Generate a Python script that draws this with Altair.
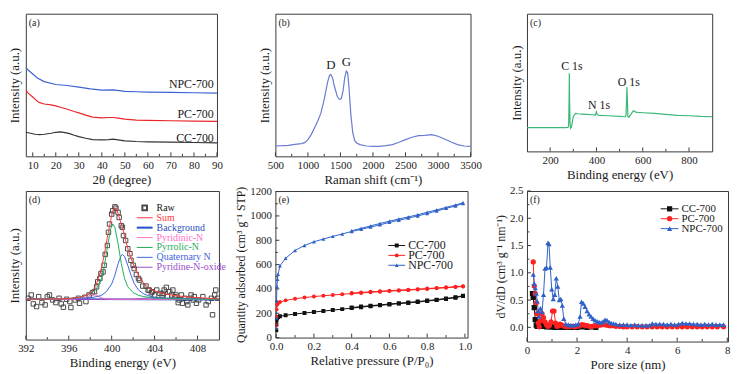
import altair as alt
import pandas as pd

FONT = "Liberation Serif"
FRAME = "#3a3a3a"
TXT = "#1a1a1a"

# ---------------- (a) XRD ----------------
a_npc_x = [7, 8, 10, 12, 15, 20, 25, 30, 35, 40, 45, 50, 55, 60, 70, 80, 90]
a_npc_y = [270, 262, 250, 238, 227, 218, 215, 210, 205, 201, 202, 197, 196, 195, 194, 193, 192]
a_pc_x = [7, 8, 10, 12, 13, 15, 18, 20, 22, 25, 28, 30, 33, 36, 40, 43, 45, 47, 50, 55, 60, 70, 80, 90]
a_pc_y = [200, 192, 180, 167, 163, 159, 156, 153, 149, 143, 136, 132, 125, 119, 117, 118, 118, 116, 113, 110, 109, 108, 107, 106]
a_cc_x = [7, 9, 11, 13, 15, 18, 20, 22, 24, 26, 28, 30, 33, 36, 40, 43, 45, 47, 50, 55, 60, 70, 80, 90]
a_cc_y = [73, 70, 67, 66, 67, 70, 73, 74, 72, 69, 64, 60, 55, 51, 50, 51, 52, 50, 47, 45, 44, 43, 42, 41]
a_lab = ["NPC-700", "PC-700", "CC-700"]
a_lab_x = [88.6, 88.6, 88.6]
a_lab_y = [218, 127, 57]
a_major = [10, 20, 30, 40, 50, 60, 70, 80, 90]
a_minor = [15, 25, 35, 45, 55, 65, 75, 85]

# ---------------- (b) Raman ----------------
b_x = [500, 700, 800, 900, 950, 1000, 1050, 1100, 1150, 1200, 1250, 1300, 1330, 1350, 1380, 1400, 1450,
       1480, 1510, 1540, 1565, 1590, 1610, 1630, 1660, 1690, 1720, 1750, 1800, 1900, 2000, 2100, 2200,
       2300, 2400, 2500, 2600, 2700, 2800, 2900, 3000, 3100, 3200, 3300, 3400, 3500]
b_y = [31, 33, 36, 38, 41, 50, 65, 85, 105, 130, 170, 220, 242, 245, 235, 215, 180,
       171, 172, 195, 235, 255, 250, 210, 125, 70, 47, 40, 35, 31, 30, 30, 32,
       35, 42, 50, 57, 62, 63, 65, 60, 52, 43, 35, 31, 30]
b_lab = ["D", "G"]
b_lab_x = [1354, 1593]
b_lab_y = [272, 282]
b_major = [500, 1000, 1500, 2000, 2500, 3000, 3500]
b_minor = [750, 1250, 1750, 2250, 2750, 3250]

# ---------------- (c) XPS survey ----------------
c_x = [100, 200, 270, 278, 280, 282, 283, 284, 286, 288, 292, 296, 300, 305, 310, 320, 340, 360, 380,
       395, 400, 403, 410, 450, 500, 525, 528, 530, 532, 534, 536, 540, 545, 550, 555, 560, 570, 580,
       600, 650, 700, 750, 800, 850, 900]
c_y = [72, 72, 72, 73, 80, 165, 237, 165, 85, 70, 73, 90, 105, 111, 115, 114, 113, 112, 111,
       110, 120, 112, 109, 108, 106, 105, 110, 155, 195, 145, 105, 103, 109, 113, 119, 123, 119, 118,
       117, 115, 112, 109, 108, 106, 105]
c_lab = ["C 1s", "N 1s", "O 1s"]
c_lab_x = [294, 411, 540]
c_lab_y = [260, 140, 210]
c_major = [200, 400, 600, 800]
c_minor = [300, 500, 700]

# ---------------- (d) N 1s ----------------
d_raw_x = [392.2, 392.5, 392.7, 393.0, 393.2, 393.5, 393.8, 394.0, 394.2, 394.5, 394.8, 395.1, 395.3, 395.5,
           395.8, 396.1, 396.2, 396.6, 396.9, 397.0, 397.5, 397.6, 397.9, 398.2, 398.4, 398.6, 398.7, 398.9,
           399.0, 399.2, 399.3, 399.4, 399.6, 399.7, 399.8, 400.0, 400.1, 400.3, 400.4, 400.6, 400.7, 400.9,
           401.0, 401.1, 401.3, 401.5, 401.7, 401.8, 402.0, 402.1, 402.3, 402.5, 402.6, 402.9, 403.2, 403.4,
           403.5, 403.7, 403.8, 404.0, 404.2, 404.5, 404.7, 404.8, 404.9, 405.1, 405.2, 405.4, 405.6, 405.7,
           405.9, 406.0, 406.2, 406.3, 406.5, 406.6, 406.8, 407.0, 407.1, 407.3, 407.4, 407.6, 407.7, 407.9,
           408.1, 408.5, 408.8, 409.0, 409.3, 409.4, 409.6, 409.7, 409.9]
d_raw_y = [125, 135, 108, 100, 130, 112, 105, 130, 135, 120, 112, 125, 108, 98,
           122, 115, 97, 120, 125, 110, 128, 115, 135, 142, 145, 160, 175, 185,
           200, 205, 225, 258, 285, 325, 350, 380, 390, 402, 398, 385, 370, 345,
           340, 315, 300, 275, 260, 240, 225, 215, 197, 185, 180, 162, 162, 150,
           150, 142, 145, 135, 150, 140, 135, 140, 150, 158, 130, 145, 135, 150,
           130, 135, 112, 120, 135, 110, 125, 115, 105, 125, 135, 120, 130, 110,
           120, 130, 105, 115, 125, 75, 135, 150, 125]
d_bg_x = [392, 410]
d_bg_y = [123, 121]
d_sum_x = [392, 396, 397, 397.5, 398, 398.5, 399, 399.3, 399.6, 399.9, 400.1, 400.3, 400.5, 400.7, 401,
           401.3, 401.6, 402, 402.5, 403, 403.5, 404, 405, 406, 407, 408, 410]
d_sum_y = [122, 124, 128, 133, 140, 160, 210, 255, 310, 360, 390, 400, 393, 370, 340,
           300, 265, 230, 195, 170, 155, 147, 138, 133, 129, 127, 123]
d_pyr_x = [392, 396, 397, 397.5, 398, 398.5, 399, 399.3, 399.6, 399.9, 400.1, 400.3, 400.6, 400.9,
           401.2, 401.5, 402, 402.5, 403, 404, 406, 410]
d_pyr_y = [122, 124, 128, 132, 140, 150, 180, 220, 280, 335, 350, 340, 290, 230,
           185, 160, 142, 134, 130, 126, 123, 122]
d_qua_x = [392, 398, 399, 399.5, 400, 400.3, 400.6, 400.85, 401.0, 401.2, 401.5, 401.8, 402.1, 402.5,
           403, 403.5, 404, 406, 410]
d_qua_y = [122, 126, 133, 145, 168, 195, 230, 252, 258, 252, 225, 195, 170, 150,
           138, 132, 128, 124, 122]
d_pdn_x = [392, 396.5, 397.5, 398, 398.3, 398.6, 399, 399.5, 401, 410]
d_pdn_y = [122, 123, 127, 134, 137, 134, 127, 123, 122, 122]
d_oxi_x = [392, 402, 403, 403.5, 404, 405, 410]
d_oxi_y = [121, 122, 125, 126, 125, 122, 121]
D_NAMES = ["Raw", "Sum", "Background", "Pyridinic-N", "Pyrrolic-N", "Quaternary N", "Pyridine-N-oxide"]
D_COLORS = ["#111111", "#ff3b3b", "#1f4fc4", "#ff6ec7", "#1fae5b", "#3f63e0", "#9b4dca"]
d_major = [392, 396, 400, 404, 408]
d_minor = [394, 398, 402, 406]

# ---------------- (e) isotherms ----------------
e_ads_p = [0.0005, 0.001, 0.002, 0.004, 0.007, 0.01, 0.02, 0.05, 0.1, 0.15, 0.2, 0.25, 0.3, 0.35,
           0.4, 0.45, 0.5, 0.55, 0.6, 0.65, 0.7, 0.75, 0.8, 0.85, 0.9, 0.95, 0.99]
e_cc_ads = [60, 110, 145, 160, 166, 170, 175, 183, 194, 202, 210, 218, 226, 234,
            242, 250, 258, 265, 272, 279, 285, 292, 300, 308, 318, 328, 342]
e_pc_ads = [100, 170, 230, 268, 278, 282, 292, 306, 319, 329, 337, 344, 350, 356,
            362, 367, 372, 377, 382, 386, 390, 395, 400, 405, 410, 415, 420]
e_npc_ads = [80, 160, 300, 420, 480, 520, 590, 652, 716, 757, 788, 810, 832, 852,
             872, 890, 908, 927, 947, 965, 982, 1000, 1020, 1040, 1062, 1082, 1102]
e_des_p = [0.99, 0.95, 0.9, 0.85, 0.8, 0.75, 0.7, 0.65, 0.6, 0.55, 0.5, 0.45, 0.4]
e_cc_des = [345, 332, 322, 312, 304, 296, 289, 283, 276, 269, 262, 255, 247]
e_pc_des = [422, 418, 413, 408, 403, 398, 394, 390, 386, 381, 376, 371, 366]
e_npc_des = [1108, 1090, 1070, 1050, 1030, 1010, 992, 975, 957, 938, 918, 898, 878]
E_NAMES = ["CC-700", "PC-700", "NPC-700"]
E_COLORS = ["#111111", "#ff2020", "#2f62c8"]
E_SHAPES = ["square", "circle", "triangle-up"]
e_xmajor = [0, 0.2, 0.4, 0.6, 0.8, 1.0]
e_xminor = [0.1, 0.3, 0.5, 0.7, 0.9]
e_ymajor = [0, 200, 400, 600, 800, 1000, 1200]
e_yminor = [100, 300, 500, 700, 900, 1100]

# ---------------- (f) pore size ----------------
f_npc_x = [0.25, 0.29, 0.33, 0.37, 0.41, 0.45, 0.49, 0.54, 0.60, 0.66, 0.72, 0.78, 0.84, 0.88, 0.93, 0.99,
           1.05, 1.11, 1.17, 1.23, 1.29, 1.35, 1.41, 1.47, 1.55, 1.65, 1.75, 1.85, 1.95, 2.05, 2.12, 2.18,
           2.25, 2.32, 2.40, 2.48, 2.56, 2.64, 2.72, 2.80, 2.88, 2.96, 3.04, 3.12, 3.20, 3.28, 3.36, 3.45,
           3.55, 3.7, 3.85, 4.0, 4.15, 4.3, 4.45, 4.6, 4.75, 4.9, 5.0, 5.15, 5.3, 5.45, 5.6, 5.75, 5.9,
           6.05, 6.2, 6.35, 6.5, 6.65, 6.8, 6.95, 7.1, 7.25, 7.4, 7.55, 7.7, 7.85]
f_npc_y = [0.97, 0.80, 0.72, 0.62, 0.48, 0.30, 0.20, 0.35, 0.28, 0.60, 1.08, 1.10, 1.55, 1.53, 1.10, 0.70,
           0.52, 0.60, 0.90, 0.75, 0.50, 0.52, 0.40, 0.16, 0.06, 0.05, 0.04, 0.04, 0.05, 0.06, 0.20, 0.47,
           0.44, 0.38, 0.30, 0.24, 0.20, 0.16, 0.13, 0.11, 0.10, 0.09, 0.11, 0.14, 0.13, 0.10, 0.08, 0.07,
           0.06, 0.05, 0.05, 0.05, 0.04, 0.05, 0.04, 0.04, 0.04, 0.04, 0.07, 0.06, 0.06, 0.06, 0.05, 0.06, 0.05,
           0.06, 0.08, 0.07, 0.07, 0.06, 0.06, 0.05, 0.06, 0.05, 0.06, 0.05, 0.05, 0.05]
f_pc_x = [0.25, 0.29, 0.33, 0.37, 0.41, 0.45, 0.49, 0.54, 0.60, 0.66, 0.72, 0.78, 0.84, 0.90, 0.96, 1.02,
          1.08, 1.14, 1.20, 1.26, 1.32, 1.40, 1.50, 1.60, 1.70, 1.80, 1.90, 2.00, 2.10, 2.20, 2.30, 2.40,
          2.50, 2.60, 2.70, 2.80, 2.90, 3.00, 3.10, 3.20, 3.30, 3.40, 3.55, 3.70, 3.85, 4.0, 4.2, 4.4,
          4.6, 4.8, 5.0, 5.2, 5.4, 5.6, 5.8, 6.0, 6.2, 6.4, 6.6, 6.8, 7.0, 7.2, 7.4, 7.6, 7.85]
f_pc_y = [1.20, 0.76, 0.62, 0.45, 0.25, 0.08, 0.01, 0.12, 0.25, 0.18, 0.10, 0.05, 0.02, 0.04, 0.10, 0.30,
          0.30, 0.08, 0.02, 0.03, 0.06, 0.04, 0.02, 0.01, 0.02, 0.02, 0.01, 0.02, 0.03, 0.05, 0.04, 0.03,
          0.02, 0.02, 0.03, 0.03, 0.04, 0.05, 0.05, 0.04, 0.03, 0.03, 0.02, 0.02, 0.01, 0.01, 0.01, 0.01,
          0.01, 0.01, 0.01, 0.01, 0.01, 0.01, 0.01, 0.01, 0.01, 0.01, 0.01, 0.01, 0.01, 0.01, 0.01, 0.01, 0.01]
f_cc_x = [0.22, 0.25, 0.29, 0.33, 0.37, 0.41, 0.45, 0.50, 0.55, 0.60, 0.66, 0.72, 0.78, 0.85, 0.92, 1.0,
          1.1, 1.2, 1.3, 1.4, 1.5, 1.6, 1.8, 2.0, 2.2, 2.4, 2.6, 2.75]
f_cc_y = [0.62, 0.55, 0.36, 0.14, 0.04, 0.02, 0.05, 0.08, 0.04, 0.02, 0.06, 0.03, 0.01, 0.02, 0.01, 0.01,
          0.0, 0.0, 0.01, 0.0, 0.0, 0.0, 0.0, 0.0, 0.01, 0.0, 0.01, 0.0]
f_xmajor = [0, 2, 4, 6, 8]
f_xminor = [1, 3, 5, 7]
f_ymajor = [0, 0.5, 1.0, 1.5, 2.0, 2.5]
f_yminor = [0.25, 0.75, 1.25, 1.75, 2.25]


# ================= helpers =================
def xax(title, values, fmt=None, tsize=13):
    d = dict(title=title, values=values, labelFlush=False, labelOverlap=False,
             labelPadding=3, titlePadding=3, titleFontSize=tsize)
    if fmt:
        d["format"] = fmt
    return alt.Axis(**d)


def yax_hidden(title):
    return alt.Axis(title=title, labels=False, titlePadding=4, minExtent=0, titleFontSize=13)


def yax(title, values, fmt=None, tsize=12):
    d = dict(title=title, values=values, labelFlush=False, labelOverlap=False,
             labelPadding=4, titlePadding=2, titleFontSize=tsize)
    if fmt:
        d["format"] = fmt
    return alt.Axis(**d)


def line_layer(xs, ys, color, xdom, ydom, xaxis, yaxis, width=1.2):
    df = pd.DataFrame({"x": xs, "y": ys})
    return alt.Chart(df).mark_line(color=color, strokeWidth=width, clip=True).encode(
        x=alt.X("x:Q", scale=alt.Scale(domain=xdom), axis=xaxis),
        y=alt.Y("y:Q", scale=alt.Scale(domain=ydom), axis=yaxis))


def text_layer(xs, ys, labels, xdom, ydom, xaxis, yaxis, size=12, align="center"):
    df = pd.DataFrame({"x": xs, "y": ys, "t": labels})
    return alt.Chart(df).mark_text(font=FONT, fontSize=size, align=align, baseline="middle", color=TXT).encode(
        x=alt.X("x:Q", scale=alt.Scale(domain=xdom), axis=xaxis),
        y=alt.Y("y:Q", scale=alt.Scale(domain=ydom), axis=yaxis),
        text="t:N")


def tag(t):
    return alt.Chart(pd.DataFrame({"t": [t]})).mark_text(
        font=FONT, fontSize=10, align="left", baseline="top", color=TXT).encode(
        x=alt.value(3), y=alt.value(4), text="t:N")


def ticks_bottom(vals, dom, H, size, xaxis):
    return alt.Chart(pd.DataFrame({"x": vals})).mark_rule(color=FRAME, strokeWidth=1).encode(
        x=alt.X("x:Q", scale=alt.Scale(domain=dom), axis=xaxis),
        y=alt.value(H), y2=alt.value(H - size))


def ticks_left(vals, dom, size, yaxis):
    return alt.Chart(pd.DataFrame({"y": vals})).mark_rule(color=FRAME, strokeWidth=1).encode(
        y=alt.Y("y:Q", scale=alt.Scale(domain=dom), axis=yaxis),
        x=alt.value(0), x2=alt.value(size))


def ef_legend(y_first, y_last, xl0, xl1, xt, fsize, msize):
    df = pd.DataFrame({"s": E_NAMES})
    ysc = alt.Y("s:N", sort=E_NAMES, scale=alt.Scale(domain=E_NAMES, range=[y_first, y_last], padding=0), axis=None)
    col = alt.Color("s:N", scale=alt.Scale(domain=E_NAMES, range=E_COLORS), legend=None)
    shp = alt.Shape("s:N", scale=alt.Scale(domain=E_NAMES, range=E_SHAPES), legend=None)
    base = alt.Chart(df)
    rule = base.mark_rule(strokeWidth=1).encode(y=ysc, x=alt.value(xl0), x2=alt.value(xl1), color=col)
    pts = base.mark_point(filled=True, size=msize, opacity=1).encode(
        y=ysc, x=alt.value((xl0 + xl1) / 2), color=col, shape=shp)
    txt = base.mark_text(font=FONT, fontSize=fsize, align="left", baseline="middle", color=TXT).encode(
        y=ysc, x=alt.value(xt), text="s:N")
    return alt.layer(rule, pts, txt)


def spacer(w, h):
    return alt.Chart(pd.DataFrame({"z": [0]})).mark_point(opacity=0).encode(
        x=alt.value(0), y=alt.value(0)).properties(
        width=w, height=h, view=alt.ViewBackground(stroke="transparent", fill="transparent"))


# ================= panel (a) =================
AW, AH = 193, 144
a_xd, a_yd = [7, 90], [0, 433]
ax_a = xax("2θ (degree)", a_major)
ay_a = yax_hidden("Intensity (a.u.)")
panel_a = alt.layer(
    line_layer(a_cc_x, a_cc_y, "#333333", a_xd, a_yd, ax_a, ay_a),
    line_layer(a_pc_x, a_pc_y, "#e8262b", a_xd, a_yd, ax_a, ay_a),
    line_layer(a_npc_x, a_npc_y, "#3d62d6", a_xd, a_yd, ax_a, ay_a),
    text_layer(a_lab_x, a_lab_y, a_lab, a_xd, a_yd, ax_a, ay_a, size=12, align="right"),
    ticks_bottom(a_major, a_xd, AH, 4, ax_a),
    ticks_bottom(a_minor, a_xd, AH, 2.5, ax_a),
    tag("(a)"),
).properties(width=AW, height=AH)

# ================= panel (b) =================
BW, BH = 197, 144
b_xd, b_yd = [500, 3500], [0, 427]
ax_b = xax("Raman shift (cm⁻¹)", b_major, fmt="d")
ay_b = yax_hidden("Intensity (a.u.)")
panel_b = alt.layer(
    line_layer(b_x, b_y, "#6a7bd1", b_xd, b_yd, ax_b, ay_b),
    text_layer(b_lab_x, b_lab_y, b_lab, b_xd, b_yd, ax_b, ay_b, size=13),
    ticks_bottom(b_major, b_xd, BH, 4, ax_b),
    ticks_bottom(b_minor, b_xd, BH, 2.5, ax_b),
    tag("(b)"),
).properties(width=BW, height=BH)

# ================= panel (c) =================
CW, CH = 187, 139
c_xd, c_yd = [100, 900], [0, 417]
ax_c = xax("Binding energy (eV)", c_major)
ay_c = yax_hidden("Intensity (a.u.)")
panel_c = alt.layer(
    line_layer(c_x, c_y, "#3cb878", c_xd, c_yd, ax_c, ay_c),
    text_layer(c_lab_x, c_lab_y, c_lab, c_xd, c_yd, ax_c, ay_c, size=12),
    ticks_bottom(c_major, c_xd, CH, 4, ax_c),
    ticks_bottom(c_minor, c_xd, CH, 2.5, ax_c),
    tag("(c)"),
).properties(width=CW, height=CH)

# ================= panel (d) =================
DW, DH = 195, 150
d_xd, d_yd = [392, 410], [0, 450]
ax_d = xax("Binding energy (eV)", d_major)
ay_d = yax_hidden("Intensity (a.u.)")
d_raw = alt.Chart(pd.DataFrame({"x": d_raw_x, "y": d_raw_y})).mark_point(
    shape="square", filled=False, size=20, color="#4a4a4a", strokeWidth=1, opacity=1, clip=True).encode(
    x=alt.X("x:Q", scale=alt.Scale(domain=d_xd), axis=ax_d),
    y=alt.Y("y:Q", scale=alt.Scale(domain=d_yd), axis=ay_d))
d_main = alt.layer(
    d_raw,
    line_layer(d_bg_x, d_bg_y, D_COLORS[2], d_xd, d_yd, ax_d, ay_d, width=1.6),
    line_layer(d_oxi_x, d_oxi_y, D_COLORS[6], d_xd, d_yd, ax_d, ay_d, width=1),
    line_layer(d_pdn_x, d_pdn_y, D_COLORS[3], d_xd, d_yd, ax_d, ay_d, width=1),
    line_layer(d_qua_x, d_qua_y, D_COLORS[5], d_xd, d_yd, ax_d, ay_d, width=1),
    line_layer(d_pyr_x, d_pyr_y, D_COLORS[4], d_xd, d_yd, ax_d, ay_d, width=1),
    line_layer(d_sum_x, d_sum_y, D_COLORS[1], d_xd, d_yd, ax_d, ay_d, width=1),
    ticks_bottom(d_major, d_xd, DH, 4, ax_d),
    ticks_bottom(d_minor, d_xd, DH, 2.5, ax_d),
    tag("(d)"),
)
d_leg_df = pd.DataFrame({"s": D_NAMES})
d_ysc = alt.Y("s:N", sort=D_NAMES, scale=alt.Scale(domain=D_NAMES, range=[12, 82], padding=0), axis=None)
d_col = alt.Color("s:N", scale=alt.Scale(domain=D_NAMES, range=D_COLORS), legend=None)
d_leg = alt.layer(
    alt.Chart(pd.DataFrame({"s": D_NAMES[1:]})).mark_rule().encode(
        y=d_ysc, x=alt.value(112), x2=alt.value(128), color=d_col,
        strokeWidth=alt.condition(alt.datum.s == "Background", alt.value(2), alt.value(1))),
    alt.Chart(pd.DataFrame({"s": D_NAMES[:1]})).mark_point(
        shape="square", filled=False, size=22, color="#4a4a4a", opacity=1).encode(y=d_ysc, x=alt.value(120)),
    alt.Chart(d_leg_df).mark_text(font=FONT, fontSize=10, align="left", baseline="middle").encode(
        y=d_ysc, x=alt.value(132), text="s:N", color=d_col),
)
panel_d = alt.layer(d_main, d_leg).resolve_scale(y="independent").properties(width=DW, height=DH)

# ================= panel (e) =================
EW, EH = 194, 148
e_xd, e_yd = [-0.004, 1.014], [0, 1205]
ax_e = xax("Relative pressure (P/P₀)", e_xmajor, fmt=".1f")
ay_e = yax("Quantity adsorbed (cm³ g⁻¹ STP)", e_ymajor, fmt="d", tsize=12)
e_parts = []
for nm, ads, des in [("CC-700", e_cc_ads, e_cc_des), ("PC-700", e_pc_ads, e_pc_des), ("NPC-700", e_npc_ads, e_npc_des)]:
    e_parts.append(pd.DataFrame({"x": e_ads_p, "y": ads, "s": nm, "b": nm + " ads"}))
    e_parts.append(pd.DataFrame({"x": e_des_p, "y": des, "s": nm, "b": nm + " des"}))
e_df = pd.concat(e_parts, ignore_index=True)
e_col = alt.Color("s:N", scale=alt.Scale(domain=E_NAMES, range=E_COLORS), legend=None)
e_shp = alt.Shape("s:N", scale=alt.Scale(domain=E_NAMES, range=E_SHAPES), legend=None)
e_X = alt.X("x:Q", scale=alt.Scale(domain=e_xd), axis=ax_e)
e_Y = alt.Y("y:Q", scale=alt.Scale(domain=e_yd), axis=ay_e)
e_main = alt.layer(
    alt.Chart(e_df).mark_line(strokeWidth=1, clip=True).encode(x=e_X, y=e_Y, color=e_col, detail="b:N"),
    alt.Chart(e_df).mark_point(filled=True, size=16, opacity=1, clip=True).encode(
        x=e_X, y=e_Y, color=e_col, shape=e_shp),
    ticks_bottom(e_xmajor, e_xd, EH, 4, ax_e),
    ticks_bottom(e_xminor, e_xd, EH, 2.5, ax_e),
    ticks_left(e_ymajor, e_yd, 4, ay_e),
    ticks_left(e_yminor, e_yd, 2.5, ay_e),
    tag("(e)"),
)
panel_e = alt.layer(e_main, ef_legend(50, 80, 114, 131, 134, 12, 16)).resolve_scale(
    y="independent").properties(width=EW, height=EH)

# ================= panel (f) =================
FW, FH = 203, 152
f_xd, f_yd = [0, 8.03], [-0.26, 2.5]
ax_f = xax("Pore size (nm)", f_xmajor)
ay_f = yax("dV/dD (cm³ g⁻¹ nm⁻¹)", f_ymajor, fmt=".1f", tsize=12)
f_df = pd.concat([
    pd.DataFrame({"x": f_cc_x, "y": f_cc_y, "s": "CC-700"}),
    pd.DataFrame({"x": f_pc_x, "y": f_pc_y, "s": "PC-700"}),
    pd.DataFrame({"x": f_npc_x, "y": f_npc_y, "s": "NPC-700"}),
], ignore_index=True)
f_X = alt.X("x:Q", scale=alt.Scale(domain=f_xd), axis=ax_f)
f_Y = alt.Y("y:Q", scale=alt.Scale(domain=f_yd), axis=ay_f)
f_main = alt.layer(
    alt.Chart(f_df).mark_line(strokeWidth=1, clip=True).encode(x=f_X, y=f_Y, color=e_col, detail="s:N"),
    alt.Chart(f_df).mark_point(filled=True, size=28, opacity=1, clip=True).encode(
        x=f_X, y=f_Y, color=e_col, shape=e_shp),
    ticks_bottom(f_xmajor, f_xd, FH, 4, ax_f),
    ticks_bottom(f_xminor, f_xd, FH, 2.5, ax_f),
    ticks_left(f_ymajor, f_yd, 4, ay_f),
    ticks_left(f_yminor, f_yd, 2.5, ay_f),
    tag("(f)"),
)
panel_f = alt.layer(f_main, ef_legend(13, 43, 135, 153, 156, 11, 28)).resolve_scale(
    y="independent").properties(width=FW, height=FH)

# ================= layout: 5-column flow grid with invisible spacers =================
views = [
    panel_a, spacer(57, 144), panel_b, spacer(50, 144), panel_c,
    spacer(193, 35), spacer(57, 35), spacer(197, 35), spacer(50, 35), spacer(187, 35),
    panel_d, spacer(56, 150), panel_e, spacer(57, 148), panel_f,
]
chart = alt.concat(*views, columns=5, spacing=0, bounds="flush", align="none").resolve_scale(
    color="independent", shape="independent"
).properties(
    padding={"left": 0, "top": 0, "right": 0, "bottom": 0}
).configure_view(
    stroke=FRAME, strokeWidth=1
).configure_axis(
    grid=False, domain=False, ticks=False,
    labelFont=FONT, titleFont=FONT, labelFontSize=11,
    labelColor=TXT, titleColor=TXT, titleFontWeight="normal"
)

chart.save("out.html", embed_options={"renderer": "svg", "actions": False})
